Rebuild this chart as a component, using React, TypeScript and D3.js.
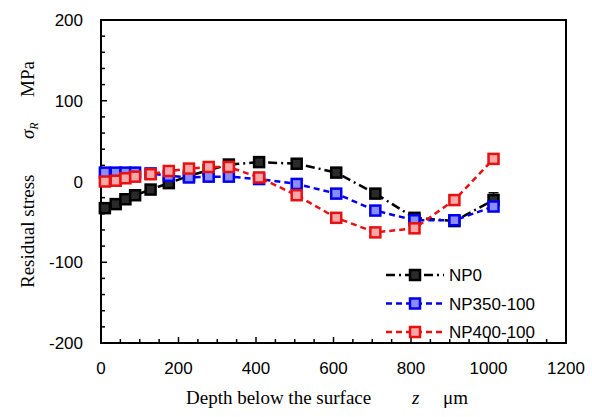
import React from "react";
import * as d3 from "d3";

const depths = [10, 38, 63, 88, 128, 175, 227, 278, 330, 408, 505, 607, 708, 809, 912, 1013];
const np0 = [-33, -28, -22, -17, -10, -2, 7, 14, 21, 24, 22, 11, -15, -45, -49, -23];
const np350 = [11, 11, 11, 11, 10, 7, 5, 6, 6, 3, -3, -15, -36, -48, -48, -31];
const np400 = [0, 1, 4, 6, 9, 13, 16, 18, 18, 5, -17, -45, -63, -58, -23, 28];
const np0Err = [0, 0, 0, 0, 0, 0, 0, 0, 0, 0, 0, 0, 0, 0, 0, 9];
const seriesNames = ["NP0", "NP350-100", "NP400-100"];
const xTicks = [0, 200, 400, 600, 800, 1000, 1200];
const yTicks = [-200, -100, 0, 100, 200];

const W = 592, H = 417;
const L = 101, R = 566, T = 20, B = 343;
const serif = "Liberation Serif, Times New Roman, serif";
const sans = "Liberation Sans, Arial, sans-serif";

export default function App() {
  const x = d3.scaleLinear().domain([0, 1200]).range([L, R]);
  const y = d3.scaleLinear().domain([-200, 200]).range([B, T]);
  const line = d3.line<[number, number]>().x(d => x(d[0])).y(d => y(d[1]));

  const series = [
    { name: seriesNames[0], vals: np0, err: np0Err, stroke: "#000000", fill: "#2a2a2a", dash: "9,4,2,4" },
    { name: seriesNames[1], vals: np350, err: null, stroke: "#0000ee", fill: "#8c8cff", dash: "6,4" },
    { name: seriesNames[2], vals: np400, err: null, stroke: "#e81010", fill: "#f8a8a8", dash: "6,4" },
  ];

  const xMinor = d3.range(0, 1201, 50);
  const yMinor = d3.range(-200, 201, 20);
  const ms = 10;

  return (
    <svg width={W} height={H} style={{ position: "absolute", left: 0, top: 0, background: "#fff" }}>
      <rect x={0} y={0} width={W} height={H} fill="#fff" />
      {xMinor.map(v => (
        <line key={"xm" + v} x1={x(v)} x2={x(v)} y1={B} y2={B - (v % 200 === 0 ? 6 : 4)} stroke="#000" strokeWidth={1.5} />
      ))}
      {yMinor.map(v => (
        <line key={"ym" + v} x1={L} x2={L + (v % 100 === 0 ? 6 : 4)} y1={y(v)} y2={y(v)} stroke="#000" strokeWidth={1.5} />
      ))}
      <rect x={L} y={T} width={R - L} height={B - T} fill="none" stroke="#000" strokeWidth={2} />
      {xTicks.map(v => (
        <text key={"xt" + v} x={x(v)} y={374} textAnchor="middle" fontFamily={sans} fontSize={17} fill="#000">{v}</text>
      ))}
      {yTicks.map(v => (
        <text key={"yt" + v} x={83} y={y(v) + 6} textAnchor="end" fontFamily={sans} fontSize={17} fill="#000">{v}</text>
      ))}
      <g fontFamily={serif} fontSize={19} fill="#000">
        <text x={186} y={404}>Depth below the surface</text>
        <text x={412} y={404} fontStyle="italic">z</text>
        <text x={443} y={404}>μm</text>
      </g>
      <g fontFamily={serif} fontSize={19} fill="#000">
        <text transform="translate(34,288) rotate(-90)">Residual stress</text>
        <text transform="translate(34,139) rotate(-90)" fontStyle="italic">σ<tspan fontSize={12} dy={4}>R</tspan></text>
        <text transform="translate(34,97) rotate(-90)">MPa</text>
      </g>
      {series.map(s => {
        const pts: [number, number][] = depths.map((d, i) => [d, s.vals[i]]);
        return (
          <g key={s.name}>
            <path d={line(pts) || ""} fill="none" stroke={s.stroke} strokeWidth={2.5} strokeDasharray={s.dash} />
            {s.err && pts.map((p, i) => s.err![i] > 0 ? (
              <g key={"e" + i}>
                <line x1={x(p[0])} x2={x(p[0])} y1={y(p[1] + s.err![i])} y2={y(p[1] - s.err![i])} stroke={s.stroke} strokeWidth={1.5} />
                <line x1={x(p[0]) - 5} x2={x(p[0]) + 5} y1={y(p[1] + s.err![i])} y2={y(p[1] + s.err![i])} stroke={s.stroke} strokeWidth={1.5} />
                <line x1={x(p[0]) - 5} x2={x(p[0]) + 5} y1={y(p[1] - s.err![i])} y2={y(p[1] - s.err![i])} stroke={s.stroke} strokeWidth={1.5} />
              </g>
            ) : null)}
            {pts.map((p, i) => (
              <rect key={i} x={x(p[0]) - ms / 2} y={y(p[1]) - ms / 2} width={ms} height={ms} fill={s.fill} stroke={s.stroke} strokeWidth={2.5} />
            ))}
          </g>
        );
      })}
      {series.map((s, i) => {
        const ly = 275 + i * 28.5;
        return (
          <g key={"lg" + s.name}>
            <line x1={386} x2={444} y1={ly} y2={ly} stroke={s.stroke} strokeWidth={2.5} strokeDasharray={s.dash} />
            <rect x={415 - ms / 2} y={ly - ms / 2} width={ms} height={ms} fill={s.fill} stroke={s.stroke} strokeWidth={2.5} />
            <text x={449} y={ly + 6} fontFamily={sans} fontSize={17} fill="#000">{s.name}</text>
          </g>
        );
      })}
    </svg>
  );
}
